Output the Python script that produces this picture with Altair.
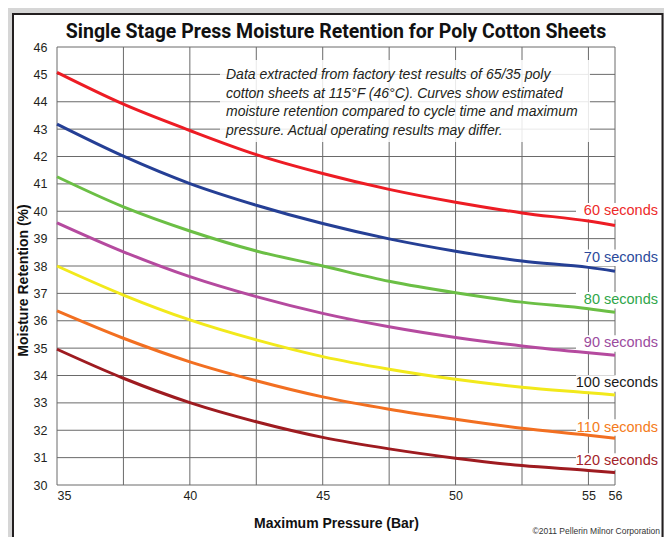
import altair as alt
import pandas as pd

# ---------------- data ----------------
PRESSURE = [35, 37.5, 40, 42.5, 45, 47.5, 50, 52.5, 55, 56]

CYCLES = ["60 seconds", "70 seconds", "80 seconds", "90 seconds",
          "100 seconds", "110 seconds", "120 seconds"]

R60 = [45.07, 43.91, 42.95, 42.07, 41.38, 40.80, 40.33, 39.94, 39.64, 39.48]
R70 = [43.18, 42.01, 41.01, 40.22, 39.55, 38.99, 38.54, 38.18, 37.95, 37.81]
R80 = [41.26, 40.16, 39.28, 38.55, 38.00, 37.44, 37.02, 36.68, 36.44, 36.31]
R90 = [39.58, 38.52, 37.61, 36.88, 36.27, 35.78, 35.39, 35.08, 34.83, 34.74]
R100 = [38.00, 36.94, 36.03, 35.30, 34.69, 34.23, 33.86, 33.57, 33.37, 33.29]
R110 = [36.36, 35.36, 34.50, 33.81, 33.22, 32.77, 32.40, 32.07, 31.82, 31.71]
R120 = [34.96, 33.90, 33.01, 32.31, 31.74, 31.32, 30.98, 30.71, 30.53, 30.45]
SERIES = [R60, R70, R80, R90, R100, R110, R120]

LINE_COLORS = ["#ed1c24", "#253f95", "#6bbf45", "#b54a9f",
               "#f2e91b", "#f26f21", "#9e1b20"]
LABEL_COLORS = ["#ed2a2a", "#2b4a9b", "#2fa64a", "#9b4b9e",
                "#1a1a1a", "#f47b20", "#a3232a"]
LABEL_Y = [40.0, 38.3, 36.75, 35.17, 33.71, 32.1, 30.86]

X_TICKS = [35, 40, 45, 50, 55, 56]
X_GRID = [35, 37.5, 40, 42.5, 45, 47.5, 50, 52.5, 55, 56]
Y_TICKS = list(range(30, 47))

TITLE = "Single Stage Press Moisture Retention for Poly Cotton Sheets"
NOTE = ["Data extracted from factory test results of 65/35 poly",
        "cotton sheets at 115°F (46°C). Curves show estimated",
        "moisture retention compared to cycle time and maximum",
        "pressure. Actual operating results may differ."]
X_TITLE = "Maximum Pressure (Bar)"
Y_TITLE = "Moisture Retention (%)"
COPYRIGHT = "©2011 Pellerin Milnor Corporation"

# ---------------- tables ----------------
rows = []
for name, vals, col in zip(CYCLES, SERIES, LINE_COLORS):
    for p, v in zip(PRESSURE, vals):
        rows.append({"cycle": name, "pressure": p, "ret": v, "lcolor": col})
df = pd.DataFrame(rows)

labels_df = pd.DataFrame({"label": CYCLES, "ly": LABEL_Y, "tcolor": LABEL_COLORS})
one = pd.DataFrame({"a": [0]})

W, H = 558, 438
FONT = "Liberation Sans, Arial, Helvetica, sans-serif"
xscale = alt.Scale(domain=[35, 56], nice=False, zero=False)
yscale = alt.Scale(domain=[30, 46], nice=False, zero=False)

XAXIS = alt.Axis(values=X_TICKS, title=X_TITLE, grid=False, domain=False,
                 ticks=False, labelPadding=4, labelFontSize=12.5,
                 labelColor="#231f20", zindex=2,
                 labelAlign={"condition": {"test": "datum.value == 35", "value": "left"},
                             "value": "center"},
                 titleFontSize=14, titleFontWeight="bold", titleColor="#111",
                 titleX=279, titleY=38, titleBaseline="middle")
YAXIS = alt.Axis(values=Y_TICKS, title=Y_TITLE, grid=False, domain=False,
                 ticks=False, labelPadding=10, labelFontSize=12.5,
                 labelColor="#231f20", zindex=2,
                 titleFontSize=14, titleFontWeight="bold", titleColor="#111",
                 titleX=-34, titleY=233, titleAngle=270,
                 titleAlign="center", titleBaseline="middle")

# ---------------- layers ----------------
frame = alt.Chart(one).mark_rect(fill="white", stroke="#231f20", strokeWidth=2).encode(
    x=alt.value(-44), x2=alt.value(605.5), y=alt.value(-33), y2=alt.value(520))

vgrid = alt.Chart(pd.DataFrame({"pressure": X_GRID})).mark_rule(
    color="#6a6a6a", strokeWidth=1).encode(
    x=alt.X("pressure:Q", scale=xscale, axis=XAXIS))

hgrid = alt.Chart(pd.DataFrame({"ret": Y_TICKS})).mark_rule(
    color="#6a6a6a", strokeWidth=1).encode(
    y=alt.Y("ret:Q", scale=yscale, axis=YAXIS))

note_box = alt.Chart(one).mark_rect(fill="white", opacity=0.85).encode(
    x=alt.value(163), x2=alt.value(533), y=alt.value(13), y2=alt.value(95))

label_bg = alt.Chart(labels_df).transform_calculate(
    lo="datum.ly - 0.3", hi="datum.ly + 0.3").mark_rect(fill="white").encode(
    x=alt.value(519), x2=alt.value(604),
    y=alt.Y("lo:Q", scale=yscale, axis=YAXIS), y2="hi:Q")

curves = alt.Chart(df).mark_line(strokeWidth=3, interpolate="monotone").encode(
    x=alt.X("pressure:Q", scale=xscale, axis=XAXIS),
    y=alt.Y("ret:Q", scale=yscale, axis=YAXIS),
    color=alt.Color("lcolor:N", scale=None),
    detail="cycle:N")

label_text = alt.Chart(labels_df).mark_text(
    align="right", baseline="middle", fontSize=14.5, font=FONT).encode(
    x=alt.value(601), y=alt.Y("ly:Q", scale=yscale, axis=YAXIS),
    text="label:N", color=alt.Color("tcolor:N", scale=None))

note_text = alt.Chart(one).mark_text(
    align="left", baseline="alphabetic", fontSize=14, fontStyle="italic",
    lineHeight=18.5, color="#231f20", font=FONT).encode(
    x=alt.value(169), y=alt.value(32), text=alt.value(NOTE))

title_text = alt.Chart(one).mark_text(
    align="center", baseline="alphabetic", fontSize=19.5, fontWeight="bold",
    color="#111", font="Liberation Sans Narrow, Arial Narrow, Roboto, sans-serif").encode(
    x=alt.value(279), y=alt.value(-9), text=alt.value(TITLE))

copyright_text = alt.Chart(one).mark_text(
    align="right", baseline="alphabetic", fontSize=8.5, color="#333", font=FONT).encode(
    x=alt.value(603), y=alt.value(487), text=alt.value(COPYRIGHT))

chart = alt.layer(
    frame, hgrid, vgrid, note_box, label_bg, curves, label_text,
    note_text, title_text, copyright_text
).properties(
    width=W, height=H,
    padding={"left": 49, "top": 39, "right": 49, "bottom": 52},
    autosize=alt.AutoSizeParams(type="none"),
    background="#d6d6d6",
).configure_view(stroke=None).configure(font=FONT)

chart.save("out.html", embed_options={"renderer": "svg", "actions": False})
